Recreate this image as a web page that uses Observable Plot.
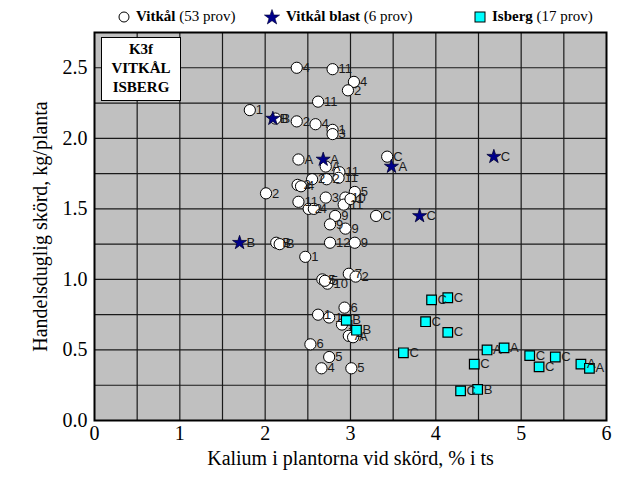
<!DOCTYPE html>
<html><head><meta charset="utf-8">
<script src="https://cdn.jsdelivr.net/npm/d3@7"></script>
<script src="https://cdn.jsdelivr.net/npm/@observablehq/plot@0.6"></script>
<style>
body{margin:0;background:#fff;}
#wrap{position:relative;width:620px;height:480px;}
.leg{position:absolute;top:8px;font-family:"Liberation Serif","Times New Roman",serif;font-size:15px;color:#000;white-space:nowrap;display:flex;align-items:center;}
.leg svg{margin-right:6px;}
#box{position:absolute;left:101px;top:37px;width:80px;height:64px;background:#fff;border:1.5px solid #000;font-family:"Liberation Serif",serif;font-weight:bold;font-size:15px;line-height:19px;text-align:center;padding-top:2px;box-sizing:border-box;}
</style></head>
<body><div id="wrap"></div>
<script>
// Vitkål (white circles)
const vitX=[2.37,2.79,3.04,2.97,2.62,1.82,2.12,2.37,2.59,2.79,2.79,2.39,2.71,3.43,2.87,2.72,2.38,2.42,2.01,3.05,2.71,2.94,2.92,2.39,2.51,2.57,2.82,3.30,2.76,2.94,2.13,2.17,2.76,3.05,2.47,2.98,3.06,2.67,2.73,2.70,2.93,2.62,2.75,2.90,2.98,3.03,2.53,2.75,2.66,3.01,2.86,2.55,3.00];
const vitY=[2.50,2.49,2.40,2.34,2.26,2.20,2.14,2.12,2.10,2.06,2.03,1.85,1.80,1.87,1.76,1.71,1.67,1.66,1.61,1.62,1.58,1.58,1.53,1.55,1.50,1.50,1.45,1.45,1.39,1.36,1.26,1.25,1.26,1.26,1.16,1.04,1.02,1.00,0.97,0.99,0.80,0.75,0.73,0.68,0.60,0.59,0.54,0.45,0.37,0.37,1.72,1.71,1.57];
const vitLab=["4","11","4","2","11","1","B","2","4","1","3","A","A","C","11","2","2","4","2","5","3","10","11","11","2","4","9","C","9","9","B","B","12","9","1","7","2","5","10","5","6","1","1","1","A","A","6","5","4","5","11","2","1"];
// Vitkål blast (stars)
const blastX=[2.09,2.68,3.48,4.68,3.81,1.70];
const blastY=[2.14,1.85,1.80,1.87,1.45,1.26];
const blastLab=["B","A","A","C","C","B"];
// Isberg (squares)
const isbX=[2.95,3.07,3.95,4.14,3.88,4.14,3.62,4.60,4.80,4.45,5.10,5.40,5.21,5.70,5.80,4.29,4.49];
const isbY=[0.71,0.64,0.855,0.87,0.70,0.625,0.48,0.50,0.515,0.40,0.46,0.45,0.38,0.40,0.37,0.21,0.22];
const isbLab=["B","B","C","C","C","C","C","A","A","C","C","C","C","A","A","C","B"];
// Axis ticks
const xTicks=[0,1,2,3,4,5,6];
const yTicks=[0,0.5,1,1.5,2,2.5];
const xGrid=[0.5,1,1.5,2,2.5,3,3.5,4,4.5,5,5.5];
const yGrid=[0.25,0.5,0.75,1,1.25,1.5,1.75,2,2.25,2.5];

const vit=vitX.map((x,i)=>({x,y:vitY[i],l:vitLab[i]}));
const blast=blastX.map((x,i)=>({x,y:blastY[i],l:blastLab[i]}));
const isb=isbX.map((x,i)=>({x,y:isbY[i],l:isbLab[i]}));
const lab={fontFamily:"Liberation Sans, Arial, sans-serif",fontSize:13,fill:"#1a1a1a",textAnchor:"start",dx:6};

const chart=Plot.plot({
  width:620,height:480,
  marginLeft:94,marginRight:14,marginTop:32,marginBottom:60,
  style:{fontFamily:"Liberation Serif, Times New Roman, serif",fontSize:"19px",color:"#000",background:"transparent"},
  x:{domain:[0,6]},
  y:{domain:[0,2.75]},
  marks:[
    Plot.frame({fill:"#c0c0c0",stroke:null}),
    Plot.gridX(xGrid,{stroke:"#1a1a1a",strokeOpacity:1,strokeWidth:1.2}),
    Plot.gridY(yGrid,{stroke:"#1a1a1a",strokeOpacity:1,strokeWidth:1.2}),
    Plot.frame({stroke:"#000",strokeWidth:2}),
    Plot.axisX(xTicks,{tickSize:0,tickPadding:5,fontSize:20,label:"Kalium i plantorna vid skörd, % i ts",labelAnchor:"center",labelArrow:"none",labelOffset:44}),
    Plot.axisY(yTicks,{tickSize:0,tickPadding:7,fontSize:20,tickFormat:d3.format(".1f"),label:"Handelsduglig skörd, kg/planta",labelAnchor:"center",labelArrow:"none",labelOffset:62}),
    Plot.dot(vit,{x:"x",y:"y",r:5.6,fill:"#fff",stroke:"#000",strokeWidth:1}),
    Plot.text(vit,{x:"x",y:"y",text:"l",...lab}),
    Plot.dot(isb,{x:"x",y:"y",symbol:"square",r:5.4,fill:"#00ffff",stroke:"#000",strokeWidth:1.2}),
    Plot.text(isb,{x:"x",y:"y",text:"l",...lab}),
    Plot.dot(blast,{x:"x",y:"y",symbol:"star",r:4.4,fill:"#00008b",stroke:"#000033",strokeWidth:0.8}),
    Plot.text(blast,{x:"x",y:"y",text:"l",...lab,dx:7})
  ]
});
const wrap=document.getElementById("wrap");
wrap.appendChild(chart);

// legend
const items=[
 {left:118,icon:'<svg width="12" height="12"><circle cx="6" cy="6" r="5" fill="#fff" stroke="#000"/></svg>',b:"Vitkål",t:"(53 prov)"},
 {left:264,icon:'<svg width="16" height="16"><path d="M8,0.5 L9.9,6 L15.6,6 L11,9.5 L12.7,15 L8,11.7 L3.3,15 L5,9.5 L0.4,6 L6.1,6Z" fill="#00008b" stroke="#000033" stroke-width="0.6"/></svg>',b:"Vitkål blast",t:"(6 prov)"},
 {left:474,icon:'<svg width="12" height="12"><rect x="1" y="1" width="10" height="10" fill="#00ffff" stroke="#000"/></svg>',b:"Isberg",t:"(17 prov)"}
];
for(const it of items){
  const d=document.createElement("div");d.className="leg";d.style.left=it.left+"px";
  d.innerHTML=it.icon+'<b>'+it.b+'</b>&nbsp;'+it.t;
  wrap.appendChild(d);
}
const box=document.createElement("div");box.id="box";box.innerHTML="K3f<br>VITKÅL<br>ISBERG";
wrap.appendChild(box);
</script></body></html>
